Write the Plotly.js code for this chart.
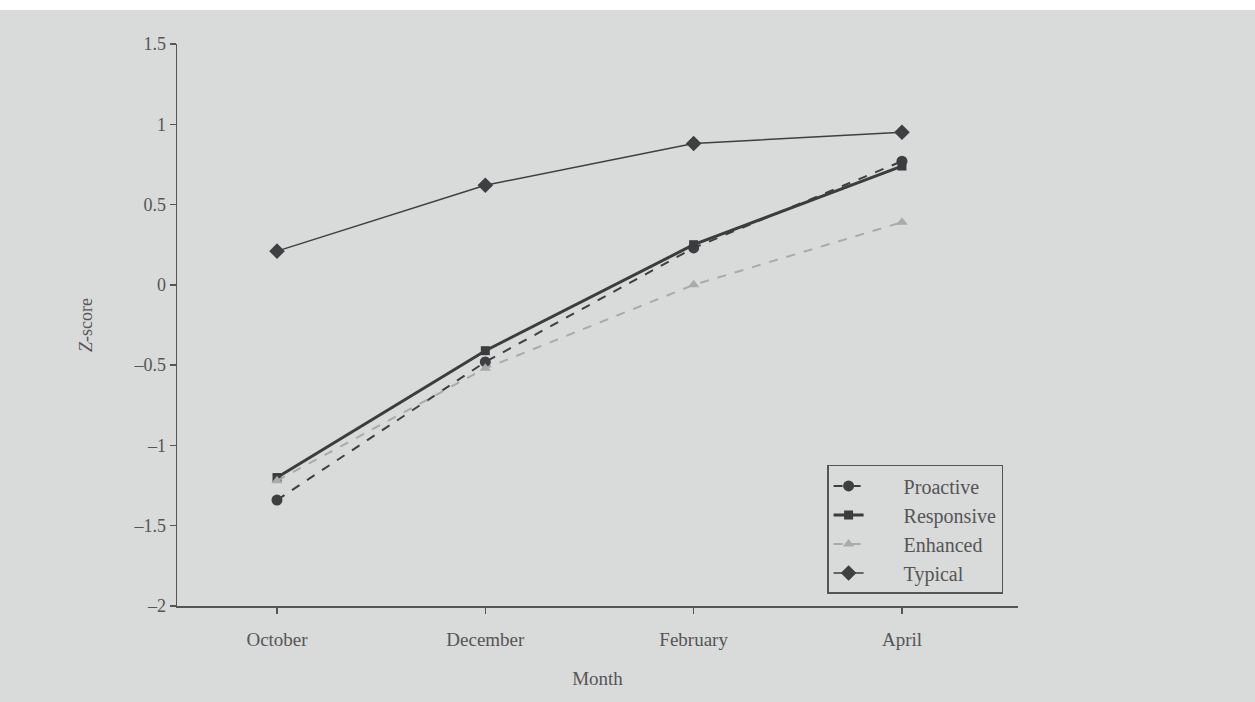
<!DOCTYPE html>
<html>
<head>
<meta charset="utf-8">
<script src="https://cdn.plot.ly/plotly-3.0.1.min.js"></script>
<style>
html,body{margin:0;padding:0;background:#d9dada;}
#chart{width:1255px;height:702px;}
</style>
</head>
<body>
<div id="chart"></div>
<script>
const months = ["October", "December", "February", "April"];
const proactive = [-1.34, -0.48, 0.23, 0.77];
const responsive = [-1.20, -0.41, 0.25, 0.74];
const enhanced = [-1.22, -0.52, 0.00, 0.39];
const typical = [0.21, 0.62, 0.88, 0.95];
const yTicks = [-2, -1.5, -1, -0.5, 0, 0.5, 1, 1.5];
const seriesNames = ["Proactive", "Responsive", "Enhanced", "Typical"];

const font = "Liberation Serif, Times New Roman, serif";
const pad = "\u00a0".repeat(7);
const traces = [
  {name: pad + seriesNames[0], x: months, y: proactive, mode: "lines+markers",
   line: {color: "#3d3f40", width: 2, dash: "dash"},
   marker: {symbol: "circle", size: 11, color: "#3d3f40"}},
  {name: pad + seriesNames[1], x: months, y: responsive, mode: "lines+markers",
   line: {color: "#3a3c3d", width: 3},
   marker: {symbol: "square", size: 9, color: "#3a3c3d"}},
  {name: pad + seriesNames[2], x: months, y: enhanced, mode: "lines+markers",
   line: {color: "#a9abab", width: 2, dash: "dash"},
   marker: {symbol: "triangle-up", size: 10, color: "#a9abab"}},
  {name: pad + seriesNames[3], x: months, y: typical, mode: "lines+markers",
   line: {color: "#3d3f40", width: 1.5},
   marker: {symbol: "diamond", size: 12, color: "#3d3f40"}}
];

const layout = {
  width: 1255, height: 702,
  margin: {l: 177, r: 237, t: 44, b: 96},
  paper_bgcolor: "#d9dada",
  plot_bgcolor: "#d9dada",
  font: {family: font, size: 19, color: "#555"},
  showlegend: true,
  legend: {
    x: 0.773, y: 0.251, xanchor: "left", yanchor: "top",
    bgcolor: "#d9dada", bordercolor: "#555", borderwidth: 1.5,
    font: {family: font, size: 20, color: "#555"},
    tracegroupgap: 2
  },
  xaxis: {
    type: "category",
    range: [-0.48, 3.557],
    showgrid: false, zeroline: false,
    showline: true, linecolor: "#555", linewidth: 1.5,
    ticks: "outside", ticklen: 6, tickcolor: "#555", tickwidth: 1.5,
    ticklabelstandoff: 10,
    tickfont: {family: font, size: 19, color: "#555"},
    title: {text: "Month", font: {family: font, size: 19, color: "#555"}, standoff: 22}
  },
  yaxis: {
    range: [-2, 1.5],
    tickvals: yTicks,
    ticktext: yTicks.map(v => (v < 0 ? "\u2013" + Math.abs(v) : String(v))),
    showgrid: false, zeroline: false,
    showline: true, linecolor: "#555", linewidth: 1.5,
    ticks: "outside", ticklen: 6, tickcolor: "#555", tickwidth: 1.5,
    tickfont: {family: font, size: 18, color: "#555"},
    title: {text: "<i>Z</i>-score", font: {family: font, size: 18, color: "#555"}, standoff: 36}
  },
  shapes: [
    {type: "rect", xref: "paper", yref: "paper", x0: -0.25, x1: 1.3,
     y0: 1 + 34/562, y1: 1 + 44/562, fillcolor: "#ffffff", line: {width: 0}, layer: "below"}
  ]
};

Plotly.newPlot("chart", traces, layout, {displayModeBar: false, staticPlot: true});
</script>
</body>
</html>
